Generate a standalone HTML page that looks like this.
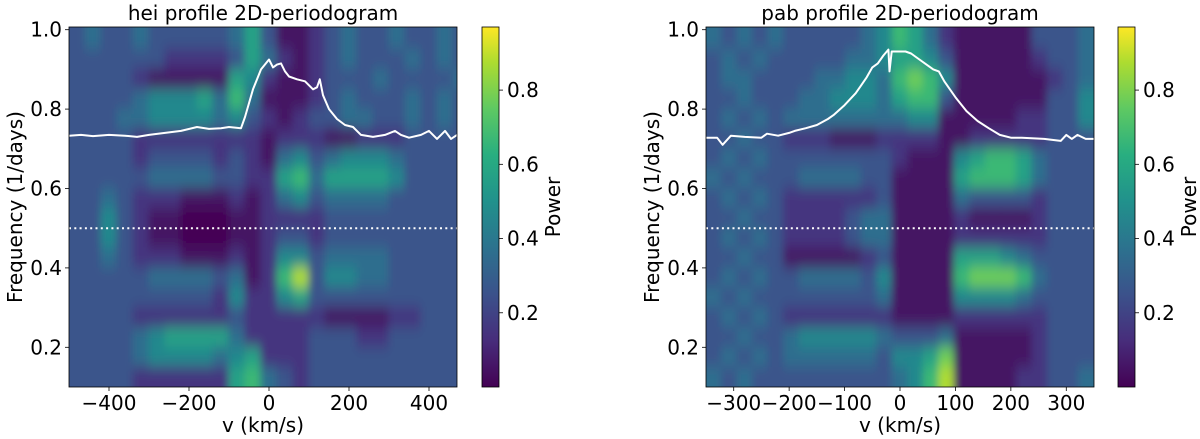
<!DOCTYPE html>
<html><head><meta charset="utf-8"><style>
html,body{margin:0;padding:0;background:#fff;}
svg{display:block;font-family:"DejaVu Sans","Liberation Sans",sans-serif;}
</style></head><body>
<svg id="chart" width="1200" height="439" viewBox="0 0 1200 439" xmlns="http://www.w3.org/2000/svg">
<defs>
<filter id="blur" x="-0.2" y="-0.2" width="1.4" height="1.4"><feGaussianBlur stdDeviation="4 7"/></filter>
<clipPath id="clipL"><rect x="69" y="27" width="388" height="360"/></clipPath>
<clipPath id="clipR"><rect x="706" y="27" width="388" height="360"/></clipPath>
<linearGradient id="vir" x1="0" y1="1" x2="0" y2="0">
<stop offset="0" stop-color="#440154"/><stop offset="0.129" stop-color="#472d7b"/><stop offset="0.258" stop-color="#3b528b"/><stop offset="0.387" stop-color="#2c728e"/><stop offset="0.515" stop-color="#21918c"/><stop offset="0.644" stop-color="#28ae80"/><stop offset="0.773" stop-color="#5ec962"/><stop offset="0.902" stop-color="#addc30"/><stop offset="1" stop-color="#fde725"/>
</linearGradient>
</defs>
<g id="root"></g>
</svg>
<script>
// ---- data ----
const heiCols = [-480,-440,-400,-360,-320,-280,-240,-200,-160,-120,-80,-40,0,40,80,120,160,200,240,280,320,360,400,440,480];
const pabCols = [-336,-308,-280,-252,-224,-196,-168,-140,-112,-84,-56,-28,0,28,56,84,112,140,168,196,224,252,280,308,336];
const freqRows = [0.975,0.925,0.875,0.825,0.775,0.725,0.675,0.625,0.575,0.525,0.475,0.425,0.375,0.325,0.275,0.225,0.175,0.125];
const heiPower = [
"3433433333"+"4"+"6"+"3"+"112"+"343343343",
"333333"+"2222"+"3"+"6"+"4"+"212"+"343334343",
"3333"+"211111"+"6"+"5"+"2"+"112"+"333433334",
"3333"+"455564"+"7"+"4"+"1"+"112"+"343334343",
"3334"+"455554"+"5"+"3"+"2"+"123"+"344334343",
"3333"+"222222"+"221222"+"112223333",
"3333"+"233332"+"321453"+"455543333",
"3333"+"344443"+"322674"+"666653333",
"3343"+"222111"+"212453"+"444433333",
"3353"+"211000"+"112222"+"333333333",
"3353"+"211000"+"112332"+"333333333",
"3343"+"222111"+"212553"+"444433333",
"3333"+"344443"+"412793"+"554433333",
"3333"+"333332"+"522563"+"333333333",
"3333"+"222222"+"322222"+"111122333",
"3333"+"456666"+"422223"+"332233333",
"3333"+"455554"+"562223"+"333333333",
"3333"+"222222"+"674323"+"333333333"];
const pabPower = [
"43434"+"333334"+"57642"+"11111"+"3334",
"34343"+"333344"+"56653"+"11111"+"2334",
"34433"+"334455"+"47875"+"11111"+"1234",
"33433"+"344555"+"46773"+"11111"+"1335",
"34343"+"444444"+"44551"+"11112"+"2335",
"33433"+"222111"+"22221"+"12222"+"2333",
"34343"+"333333"+"32111"+"56776"+"4333",
"43433"+"344443"+"31111"+"67776"+"4333",
"34343"+"222222"+"31111"+"43333"+"2333",
"33433"+"222234"+"41111"+"21111"+"2333",
"34343"+"222234"+"41111"+"22222"+"2333",
"33433"+"111112"+"31111"+"66654"+"3333",
"34343"+"344443"+"51111"+"78887"+"4333",
"43433"+"333333"+"41111"+"55554"+"3333",
"34343"+"222222"+"21111"+"22222"+"2333",
"33433"+"455555"+"43334"+"11111"+"2333",
"34343"+"444444"+"35568"+"11111"+"2333",
"43433"+"333333"+"34579"+"11112"+"2334"];
const heiProfV = [-500,-470,-440,-400,-360,-330,-300,-260,-220,-180,-150,-120,-100,-70,-60,-40,-20,0,10,20,30,40,50,70,90,110,120,127,135,150,170,190,210,230,260,290,315,330,350,380,400,420,440,455,470];
const heiProfF = [0.733,0.735,0.732,0.735,0.733,0.73,0.735,0.74,0.745,0.755,0.75,0.752,0.755,0.752,0.78,0.85,0.9,0.925,0.905,0.912,0.915,0.895,0.882,0.875,0.87,0.85,0.855,0.875,0.835,0.8,0.775,0.76,0.755,0.735,0.73,0.735,0.745,0.735,0.728,0.735,0.745,0.725,0.745,0.725,0.735];
const pabProfV = [-350,-330,-320,-305,-280,-250,-240,-220,-200,-190,-170,-150,-130,-120,-100,-80,-70,-60,-50,-40,-30,-21,-19,-15,-10,0,10,20,30,50,60,70,80,100,120,140,160,180,200,220,260,290,300,310,320,335,350];
const pabProfF = [0.728,0.728,0.71,0.733,0.73,0.728,0.738,0.733,0.74,0.745,0.752,0.76,0.775,0.785,0.81,0.84,0.86,0.88,0.905,0.915,0.935,0.95,0.895,0.945,0.945,0.945,0.945,0.94,0.93,0.91,0.9,0.895,0.87,0.83,0.795,0.77,0.752,0.735,0.728,0.728,0.725,0.72,0.735,0.725,0.735,0.725,0.725];
const xTicksL = [-400,-200,0,200,400];
const xTicksR = [-300,-200,-100,0,100,200,300];
const yTicks = [0.2,0.4,0.6,0.8,1.0];
const cbTicks = [0.2,0.4,0.6,0.8];

// ---- helpers ----
const NS="http://www.w3.org/2000/svg";
const root=document.getElementById('root');
function mk(tag,attrs,parent){const e=document.createElementNS(NS,tag);for(const k in attrs)e.setAttribute(k,attrs[k]);(parent||root).appendChild(e);return e;}
const stops=[[0,[68,1,84]],[0.125,[71,45,123]],[0.25,[59,82,139]],[0.375,[44,114,142]],[0.5,[33,145,140]],[0.625,[40,174,128]],[0.75,[94,201,98]],[0.875,[173,220,48]],[1,[253,231,37]]];
function viridis(t){t=Math.max(0,Math.min(1,t));for(let i=1;i<stops.length;i++){if(t<=stops[i][0]){const a=stops[i-1],b=stops[i];const f=(t-a[0])/(b[0]-a[0]);const c=a[1].map((v,j)=>Math.round(v+(b[1][j]-v)*f));return `rgb(${c[0]},${c[1]},${c[2]})`;}}return 'rgb(253,231,37)';}
const ys=f=>387-(f-0.1)*397;
const FS=20;

function panel(p){
  const xs=v=>p.x0+(v-p.vmin)*(p.x1-p.x0)/(p.vmax-p.vmin);
  const g=mk('g',{'clip-path':`url(#${p.clip})`});
  
  
  const hg=mk('g',{filter:'url(#blur)'},g);
  const step=p.cols[1]-p.cols[0];
  const nR=p.power.length, nC=p.cols.length;
  p.power.forEach((row,ri)=>{
    const f=freqRows[ri];
    for(let ci=0;ci<nC;ci++){
      const v=p.cols[ci];const d=parseInt(row[ci]);const val=Math.max(0,(d-0.5)/10);
      let x1=xs(v-step/2)-0.5, x2=xs(v+step/2)+0.5;
      let y1=ys(f+0.025)-0.5, y2=ys(f-0.025)+0.5;
      if(ci===0)x1-=40; if(ci===nC-1)x2+=40;
      if(ri===0)y1-=40; if(ri===nR-1)y2+=40;
      const r=mk('rect',{x:x1,y:y1,width:x2-x1,height:y2-y1,fill:viridis(val/0.97)},hg);
      
      
    }
  });
  const dl=mk('line',{x1:p.x0,x2:p.x1,y1:ys(0.5),y2:ys(0.5),stroke:'#fff','stroke-width':2,'stroke-dasharray':'2,3.3'},g);
  
  
  const pts=p.pv.map((v,i)=>xs(v).toFixed(1)+','+ys(p.pf[i]).toFixed(1)).join(' ');
  const pl=mk('polyline',{points:pts,fill:'none',stroke:'#fff','stroke-width':2,'stroke-linejoin':'round'},g);
  
  
  const fr=mk('rect',{x:p.x0,y:27,width:p.x1-p.x0,height:360,fill:'none',stroke:'#000','stroke-width':0.8});
  
  
  p.xt.forEach(t=>{
    mk('line',{x1:xs(t),x2:xs(t),y1:387,y2:391,stroke:'#000','stroke-width':0.8});
    const tx=mk('text',{x:xs(t),y:410,'font-size':FS,'text-anchor':'middle'});
    tx.textContent=(t<0?'\u2212'+(-t):t);
    
    
  });
  yTicks.forEach(t=>{
    mk('line',{x1:p.x0-4,x2:p.x0,y1:ys(t),y2:ys(t),stroke:'#000','stroke-width':0.8});
    const tx=mk('text',{x:p.x0-7,y:ys(t)+7,'font-size':FS,'text-anchor':'end'});
    tx.textContent=t.toFixed(1);
    
    
  });
  const xl=mk('text',{x:(p.x0+p.x1)/2,y:432,'font-size':FS,'text-anchor':'middle'});
  xl.textContent='v (km/s)';
  
  
  const yl=mk('text',{x:0,y:0,'font-size':FS,'text-anchor':'middle',transform:`translate(${p.x0-47},207) rotate(-90)`});
  yl.textContent='Frequency (1/days)';
  
  
  const ti=mk('text',{x:(p.x0+p.x1)/2,y:20,'font-size':FS,'text-anchor':'middle'});
  ti.textContent=p.title;
  
  
  const cb=mk('rect',{x:p.cb,y:27,width:17,height:360,fill:'url(#vir)',stroke:'#000','stroke-width':0.8});
  
  
  const cy=v=>387-v/0.97*360;
  cbTicks.forEach(t=>{
    mk('line',{x1:p.cb+17,x2:p.cb+21,y1:cy(t),y2:cy(t),stroke:'#000','stroke-width':0.8});
    const tx=mk('text',{x:p.cb+25,y:cy(t)+7,'font-size':FS});
    tx.textContent=t.toFixed(1);
    
    
  });
  const pw=mk('text',{x:0,y:0,'font-size':FS,'text-anchor':'middle',transform:`translate(${p.cb+78},207) rotate(-90)`});
  pw.textContent='Power';
  
  
}
panel({key:'hei',title:'hei profile 2D-periodogram',x0:69,x1:457,vmin:-500,vmax:470,clip:'clipL',cols:heiCols,power:heiPower,pv:heiProfV,pf:heiProfF,xt:xTicksL,cb:482});
panel({key:'pab',title:'pab profile 2D-periodogram',x0:706,x1:1094,vmin:-350,vmax:350,clip:'clipR',cols:pabCols,power:pabPower,pv:pabProfV,pf:pabProfF,xt:xTicksR,cb:1118});
</script>
</body></html>
